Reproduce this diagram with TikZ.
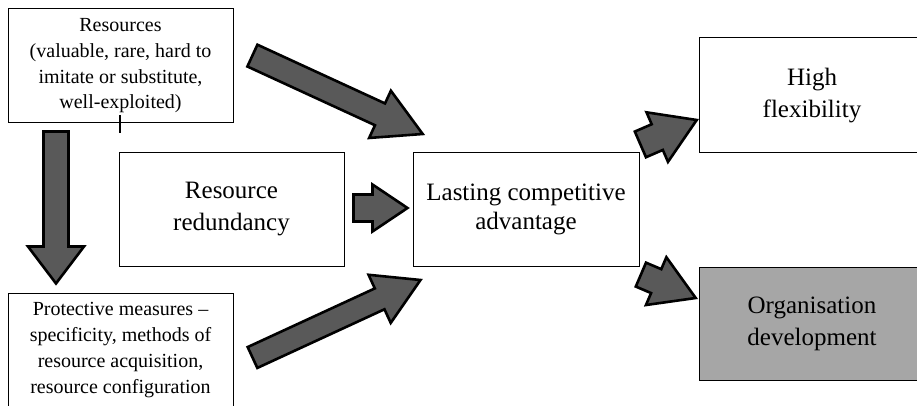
\documentclass[tikz,border=0pt]{standalone}
\usepackage{fontspec}
\setmainfont{Liberation Serif}
\usetikzlibrary{calc}
\definecolor{arrowgray}{HTML}{595959}
\definecolor{boxgray}{HTML}{A6A6A6}
\tikzset{
  box/.style={draw=black, line width=1pt, align=center, inner sep=0pt},
  smalltext/.style={font=\fontsize{20}{25.7}\selectfont},
  bigtext/.style={font=\fontsize{25}{32}\selectfont},
  fatarrowstyle/.style={fill=arrowgray, draw=black, line width=2.6pt, line join=miter},
}
% \fatarrow{name}{tail}{tip}{shaft half width}{head half width}{head length}
\newcommand{\fatarrow}[6]{%
  \coordinate (#1-hb) at ($(#3)!#6!(#2)$);
  \draw[fatarrowstyle]
    ($(#2)!#4!90:(#3)$) -- ($(#1-hb)!#4!90:(#3)$) -- ($(#1-hb)!#5!90:(#3)$)
    -- (#3)
    -- ($(#1-hb)!#5!-90:(#3)$) -- ($(#1-hb)!#4!-90:(#3)$) -- ($(#2)!#4!-90:(#3)$)
    -- cycle;
}
\begin{document}
\begin{tikzpicture}[x=1pt, y=-1pt]
  \useasboundingbox (0,0) rectangle (917,406);
  \clip (0,0) rectangle (917,406);

  % boxes
  \node[box, smalltext, minimum width=225pt, minimum height=114pt] (res) at (120.5,66)
    {Resources\\(valuable, rare, hard to\\imitate or substitute,\\well-exploited)};
  \node[box, smalltext, minimum width=225pt, minimum height=114pt] (prot) at (120.5,350)
    {Protective measures –\\specificity, methods of\\resource acquisition,\\resource configuration};
  \node[box, bigtext, minimum width=225pt, minimum height=113pt] (red) at (231.5,209.5)
    {Resource\\redundancy};
  \node[box, bigtext, font=\fontsize{25}{29}\selectfont, minimum width=226pt, minimum height=113pt] (lca) at (526,209.5)
    {Lasting competitive\\advantage};
  \node[box, bigtext, minimum width=226pt, minimum height=115pt] (flex) at (812,95.5)
    {High\\flexibility};
  \node[box, bigtext, fill=boxgray, minimum width=226pt, minimum height=113pt] (org) at (812,323.5)
    {Organisation\\development};

  % small tick under the resources box
  \coordinate (tickA) at (120,115);
  \coordinate (tickB) at (120,133);
  \draw[line width=1.6pt] (tickA) -- (tickB);

  % arrow end points
  \coordinate (a1t) at (252.4,55.6);  \coordinate (a1h) at (422.7,134);
  \coordinate (a2t) at (353.5,208);   \coordinate (a2h) at (407.5,208);
  \coordinate (a3t) at (252.5,357.5); \coordinate (a3h) at (420.5,280);
  \coordinate (a4t) at (56,131.5);    \coordinate (a4h) at (56,283.5);
  \coordinate (a5t) at (640.4,144.4); \coordinate (a5h) at (696.7,120);
  \coordinate (a6t) at (640.9,274.6); \coordinate (a6h) at (695.7,298);

  % block arrows
  \fatarrow{a1}{a1t}{a1h}{12pt}{26pt}{47pt}
  \fatarrow{a2}{a2t}{a2h}{13.5pt}{23.5pt}{35pt}
  \fatarrow{a3}{a3t}{a3h}{11.5pt}{26.5pt}{45pt}
  \fatarrow{a4}{a4t}{a4h}{12.5pt}{28pt}{37pt}
  \fatarrow{a5}{a5t}{a5h}{14pt}{27pt}{43pt}
  \fatarrow{a6}{a6t}{a6h}{13pt}{26pt}{43pt}
\end{tikzpicture}
\end{document}
